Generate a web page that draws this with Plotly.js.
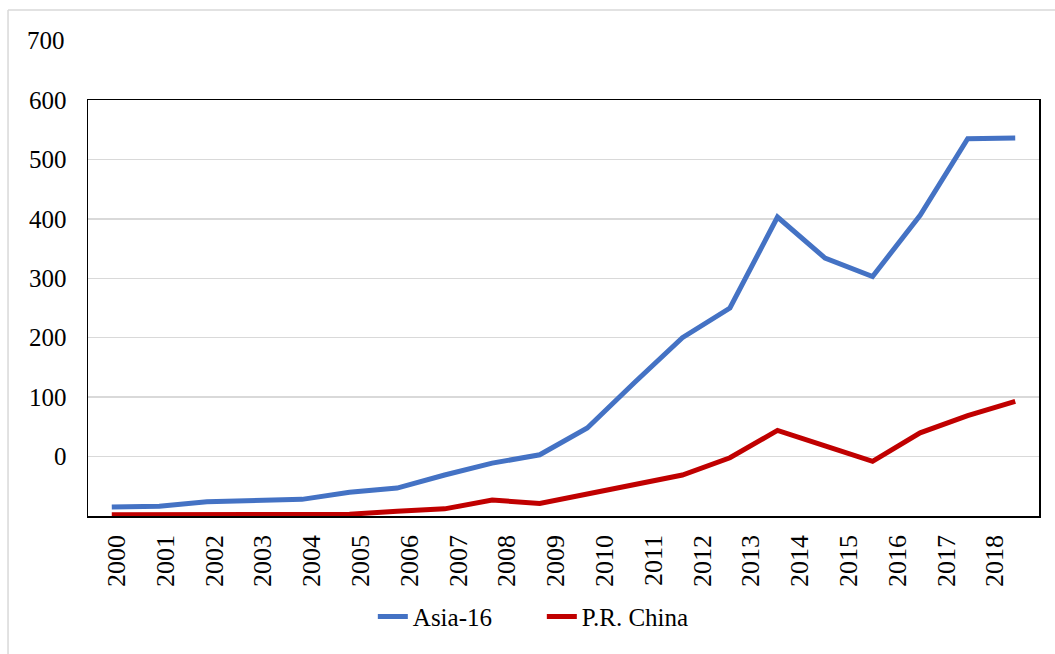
<!DOCTYPE html>
<html>
<head>
<meta charset="utf-8">
<script src="https://cdn.plot.ly/plotly-3.0.1.min.js"></script>
<style>
  html, body { margin: 0; padding: 0; background: #ffffff; }
  #chart { width: 1055px; height: 654px; }
</style>
</head>
<body>
<div id="chart"></div>
<script>
// ---- data ----
const years = [2000, 2001, 2002, 2003, 2004, 2005, 2006, 2007, 2008, 2009,
               2010, 2011, 2012, 2013, 2014, 2015, 2016, 2017, 2018, 2019];
const asia16 = [-85, -83.5, -76, -74.5, -72, -60, -53, -31, -11, 3,
                48, 125, 200, 250, 403, 334, 303, 406, 535, 536];
const prChina = [-98, -98, -98, -97.5, -97, -97, -92, -88, -73, -79,
                 -63, -47, -31, -2, 44, 18, -8, 40, 69, 93];
const xTickLabels = ['2000', '2001', '2002', '2003', '2004', '2005', '2006', '2007', '2008', '2009',
                     '2010', '2011', '2012', '2013', '2014', '2015', '2016', '2017', '2018'];
const yTickValues = [0, 100, 200, 300, 400, 500, 600];
const yExtraLabel = 700;
const seriesNames = ['Asia-16', 'P.R. China'];

// ---- layout constants ----
const yRange = [-100, 600];
const labelStart = 2000.10;   // where the first year label sits on the x scale
const labelStep = 1.0263;     // label spacing on the x scale
const serif = 'Liberation Serif, Times New Roman, serif';

const traces = [
  {
    x: years, y: asia16, name: seriesNames[0], type: 'scatter', mode: 'lines',
    line: { color: '#4472C4', width: 5 }, hoverinfo: 'x+y+name'
  },
  {
    x: years, y: prChina, name: seriesNames[1], type: 'scatter', mode: 'lines',
    line: { color: '#C00000', width: 5 }, hoverinfo: 'x+y+name'
  }
];

const layout = {
  width: 1055, height: 654,
  margin: { l: 88, r: 16, t: 100, b: 138 },
  paper_bgcolor: '#ffffff',
  plot_bgcolor: '#ffffff',
  showlegend: true,
  legend: {
    orientation: 'h', x: 0.2995, xanchor: 'left', y: -0.242, yanchor: 'middle',
    font: { family: serif, size: 25, color: '#000000' },
    entrywidth: 124, entrywidthmode: 'pixels',
    tracegroupgap: 0
  },
  xaxis: {
    range: [1999.5, 2019.5],
    tickmode: 'array',
    tickvals: xTickLabels.map((_, i) => labelStart + i * labelStep),
    ticktext: xTickLabels,
    tickangle: -90,
    ticks: '',
    ticklabelstandoff: 7,
    tickfont: { family: serif, size: 26, color: '#000000' },
    showgrid: false, zeroline: false,
    showline: true, linecolor: '#000000', linewidth: 1.5, mirror: true,
    fixedrange: true
  },
  yaxis: {
    range: yRange,
    tickmode: 'array',
    tickvals: yTickValues,
    ticktext: yTickValues.map(String),
    ticks: '',
    ticklabelstandoff: 15,
    tickfont: { family: serif, size: 25, color: '#000000' },
    showgrid: true, gridcolor: '#d9d9d9', gridwidth: 1.5,
    zeroline: false,
    showline: true, linecolor: '#000000', linewidth: 1.5, mirror: true,
    fixedrange: true
  },
  annotations: [
    {
      text: String(yExtraLabel), xref: 'paper', yref: 'paper', x: 0,
      y: (yExtraLabel - yRange[0]) / (yRange[1] - yRange[0]),
      xanchor: 'right', yanchor: 'middle', xshift: -21, showarrow: false,
      font: { family: serif, size: 25, color: '#000000' }
    }
  ],
  shapes: [
    { type: 'line', xref: 'paper', yref: 'paper', x0: -0.0841, x1: 1.02, y0: 1.2163, y1: 1.2163,
      line: { color: '#d9d9d9', width: 1.5 } },
    { type: 'line', xref: 'paper', yref: 'paper', x0: -0.0841, x1: -0.0841, y0: 1.2163, y1: -0.34,
      line: { color: '#d9d9d9', width: 1.5 } }
  ]
};

Plotly.newPlot('chart', traces, layout, { displayModeBar: false, staticPlot: true });
</script>
</body>
</html>
